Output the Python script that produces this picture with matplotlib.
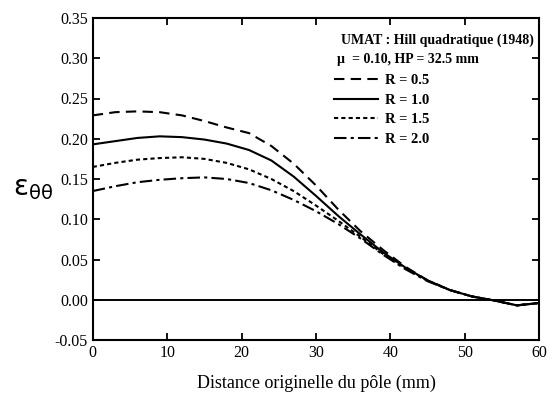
import matplotlib
matplotlib.use("Agg")
import matplotlib.pyplot as plt

# distance from pole (mm)
x = [0, 3, 6, 9, 12, 15, 18, 21, 24, 27, 30, 33, 36, 39, 42, 45, 48, 51, 54, 57, 60]

eps_r05 = [0.229, 0.233, 0.234, 0.233, 0.229, 0.222, 0.214, 0.207, 0.191, 0.169, 0.142,
           0.112, 0.085, 0.062, 0.041, 0.024, 0.012, 0.004, -0.001, -0.007, -0.004]
eps_r10 = [0.193, 0.197, 0.201, 0.203, 0.202, 0.199, 0.194, 0.186, 0.173, 0.153, 0.129,
           0.104, 0.081, 0.059, 0.040, 0.024, 0.012, 0.004, -0.001, -0.007, -0.004]
eps_r15 = [0.165, 0.170, 0.174, 0.176, 0.177, 0.175, 0.170, 0.162, 0.150, 0.135, 0.117,
           0.098, 0.078, 0.057, 0.039, 0.024, 0.012, 0.004, -0.001, -0.007, -0.004]
eps_r20 = [0.135, 0.141, 0.146, 0.149, 0.151, 0.152, 0.150, 0.145, 0.136, 0.124, 0.110,
           0.094, 0.076, 0.056, 0.038, 0.023, 0.012, 0.004, -0.001, -0.007, -0.004]

labels = ['R = 0.5', 'R = 1.0', 'R = 1.5', 'R = 2.0']

plt.rcParams['font.family'] = ['Liberation Serif', 'DejaVu Serif']
plt.rcParams['axes.unicode_minus'] = False
plt.rcParams['mathtext.fontset'] = 'dejavusans'

fig = plt.figure(figsize=(5.52, 4.0), dpi=100)
ax = fig.add_axes([0.168, 0.15, 0.809, 0.805])

ax.axhline(0, color='black', lw=1.4)
ax.plot(x, eps_r05, color='black', lw=1.5, dashes=(5, 3), label=labels[0])
ax.plot(x, eps_r10, color='black', lw=1.5, label=labels[1])
ax.plot(x, eps_r15, color='black', lw=1.5, dashes=(2, 1.5), label=labels[2])
ax.plot(x, eps_r20, color='black', lw=1.5, dashes=(6, 2, 1.5, 2), label=labels[3])

ax.set_xlim(0, 60)
ax.set_ylim(-0.05, 0.35)
ax.set_xticks(range(0, 61, 10))
ax.set_yticks([-0.05, 0.0, 0.05, 0.10, 0.15, 0.20, 0.25, 0.30, 0.35])
ax.set_yticklabels(['%.2f' % v for v in ax.get_yticks()])
ax.tick_params(direction='in', top=True, right=True, labelsize=11.5, length=5, width=1.3)
for s in ax.spines.values():
    s.set_linewidth(1.5)

ax.set_xlabel('Distance originelle du pôle (mm)', fontsize=13, labelpad=10)
fig.text(0.06, 0.53, r'$\mathregular{\varepsilon_{\theta\theta}}$', fontsize=20,
         family='DejaVu Sans', ha='center', va='center')

ax.text(0.556, 0.932, 'UMAT : Hill quadratique (1948)', transform=ax.transAxes,
        fontsize=10, fontweight='bold', va='center')
ax.text(0.547, 0.870, 'µ  = 0.10, HP = 32.5 mm', transform=ax.transAxes,
        fontsize=10, fontweight='bold', va='center')
ax.legend(loc='upper left', bbox_to_anchor=(0.528, 0.845), frameon=False,
          prop={'size': 10.5, 'weight': 'bold'}, handlelength=3.0,
          handletextpad=0.5, labelspacing=0.45, borderaxespad=0)

fig.savefig('out.png', dpi=100)
